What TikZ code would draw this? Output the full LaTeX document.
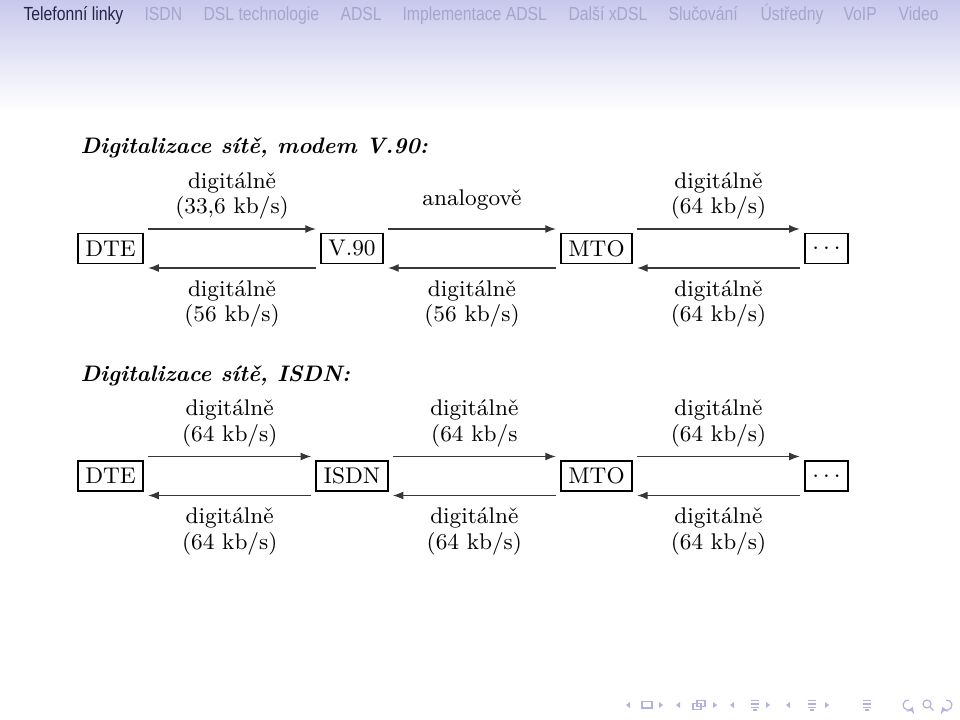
\documentclass[tikz,border=0pt]{standalone}
\usepackage{fontspec}
\newfontfamily\navfont[FakeStretch=0.83]{Liberation Sans}
\usetikzlibrary{arrows.meta,calc}
\definecolor{hdrtop}{RGB}{200,200,236}
\definecolor{navact}{RGB}{35,35,75}
\definecolor{navin}{RGB}{165,165,205}
\definecolor{iconc}{RGB}{178,178,222}
\definecolor{linec}{RGB}{55,55,55}
\newcommand\diagfont{\fontsize{8.6}{9.7}\selectfont}
\newcommand\ttlfont{\fontsize{8.5}{10}\selectfont\bfseries\itshape}
\newcommand\navsize{\fontsize{7.2}{8}\selectfont\navfont}
\begin{document}
\begin{tikzpicture}[x=0.13333mm,y=-0.13333mm,
  box/.style={draw,line width=0.75pt,inner xsep=2.8pt,inner ysep=0pt,minimum height=4mm,font=\diagfont},
  arr/.style={-{Latex[length=4pt,width=3pt]},line width=0.45pt,draw=linec,shorten >=0.55mm,shorten <=0.55mm},
  lab/.style={font=\diagfont,align=center,inner sep=0pt},
  ttl/.style={font=\ttlfont,anchor=base west,inner sep=0pt},
  navi/.style={font=\navsize,anchor=base west,inner sep=0pt,text=navin},
  icl/.style={draw=iconc,line width=0.45pt},
  icf/.style={fill=iconc}]
\useasboundingbox (0,0) rectangle (960,720);
\fill[white] (0,0) rectangle (960,720);
\shade[top color=hdrtop,bottom color=white] (0,0) rectangle (960,110);
% navigation bar
\node[navi,text=navact] (n1) at (23,21) {Telefonní linky};
\node[navi] (n2) at (144,21) {ISDN};
\node[navi] (n3) at (203,21) {DSL technologie};
\node[navi] (n4) at (340,21) {ADSL};
\node[navi] (n5) at (402,21) {Implementace ADSL};
\node[navi] (n6) at (568,21) {Další xDSL};
\node[navi] (n7) at (668,21) {Slučování};
\node[navi] (n8) at (760,21) {Ústředny};
\node[navi] (n9) at (843,21) {VoIP};
\node[navi] (n10) at (898,21) {Video};
% section 1
\node[ttl] (t1) at (80,154) {Digitalizace sítě, modem V.90:};
\node[box] (dte1) at (110.5,248.5) {DTE};
\node[box] (v90) at (352,248.5) {V.90};
\node[box] (mto1) at (596.5,248.5) {MTO};
\node[box] (dots1) at (826.5,248.5) {$\ldots$};
\draw[arr] ([yshift=2.6mm]dte1.east) -- node[lab,above=3.4pt]{digitálně\\(33,6 kb/s)} ([yshift=2.6mm]v90.west);
\draw[arr] ([yshift=-2.6mm]v90.west) -- node[lab,below=4.5pt]{digitálně\\(56 kb/s)} ([yshift=-2.6mm]dte1.east);
\draw[arr] ([yshift=2.6mm]v90.east) -- node[lab,above=7pt]{analogově} ([yshift=2.6mm]mto1.west);
\draw[arr] ([yshift=-2.6mm]mto1.west) -- node[lab,below=4.5pt]{digitálně\\(56 kb/s)} ([yshift=-2.6mm]v90.east);
\draw[arr] ([yshift=2.6mm]mto1.east) -- node[lab,above=3.4pt]{digitálně\\(64 kb/s)} ([yshift=2.6mm]dots1.west);
\draw[arr] ([yshift=-2.6mm]dots1.west) -- node[lab,below=4.5pt]{digitálně\\(64 kb/s)} ([yshift=-2.6mm]mto1.east);
% section 2
\node[ttl] (t2) at (80,382) {Digitalizace sítě, ISDN:};
\node[box] (dte2) at (110.5,476) {DTE};
\node[box] (isdn) at (352,476) {ISDN};
\node[box] (mto2) at (596.5,476) {MTO};
\node[box] (dots2) at (826.5,476) {$\ldots$};
\draw[arr] ([yshift=2.6mm]dte2.east) -- node[lab,above=3.4pt]{digitálně\\(64 kb/s)} ([yshift=2.6mm]isdn.west);
\draw[arr] ([yshift=-2.6mm]isdn.west) -- node[lab,below=4.5pt]{digitálně\\(64 kb/s)} ([yshift=-2.6mm]dte2.east);
\draw[arr] ([yshift=2.6mm]isdn.east) -- node[lab,above=3.4pt]{digitálně\\(64 kb/s} ([yshift=2.6mm]mto2.west);
\draw[arr] ([yshift=-2.6mm]mto2.west) -- node[lab,below=4.5pt]{digitálně\\(64 kb/s)} ([yshift=-2.6mm]isdn.east);
\draw[arr] ([yshift=2.6mm]mto2.east) -- node[lab,above=3.4pt]{digitálně\\(64 kb/s)} ([yshift=2.6mm]dots2.west);
\draw[arr] ([yshift=-2.6mm]dots2.west) -- node[lab,below=4.5pt]{digitálně\\(64 kb/s)} ([yshift=-2.6mm]mto2.east);
% navigation symbols
\foreach \x in {628,678,732,788} \fill[icf] (\x-2,705) -- (\x+2,702) -- (\x+2,708) -- cycle;
\foreach \x in {661,715,768,827} \fill[icf] (\x+2,705) -- (\x-2,702) -- (\x-2,708) -- cycle;
\draw[icl] (642,701.5) rectangle (652,708);
\draw[icl] (693,703.5) rectangle (701,709.5);
\draw[icl] (697,700.5) rectangle (705,706.5);
\foreach \x in {755,812,867} {
  \draw[icl] (\x-4,700.5) -- (\x+4,700.5);
  \draw[icl] (\x-4,704) -- (\x+4,704);
  \draw[icl] (\x-4,707.5) -- (\x+4,707.5);
  \draw[icl] (\x-2,710) -- (\x+2,710);
}
\draw[icl,-{Stealth[length=2.5pt,width=3pt]}] (908.9,700.1) arc[start angle=-80,end angle=-340,radius=5];
\draw[icl] (927,704) circle[radius=4];
\draw[icl] (930,707) -- (933.5,710.5);
\draw[icl,-{Stealth[length=2.5pt,width=3pt]}] (946.1,700.1) arc[start angle=-100,end angle=160,radius=5];
\end{tikzpicture}
\end{document}
